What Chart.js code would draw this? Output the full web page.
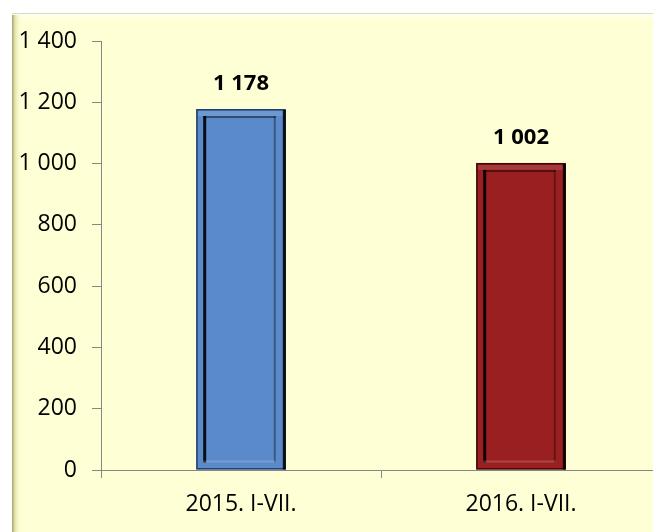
<!DOCTYPE html>
<html>
<head>
<meta charset="utf-8">
<script src="https://cdn.jsdelivr.net/npm/chart.js@4"></script>
<style>
  html, body { margin: 0; padding: 0; background: #ffffff; overflow: hidden; }
  #wrap { width: 653px; height: 532px; overflow: hidden; }
</style>
</head>
<body>
<div id="wrap"><canvas id="chart" width="670" height="532"></canvas></div>
<script>
// values
const categories = ['2015. I-VII.', '2016. I-VII.'];
const values = [1178, 1002];
const barColors = ['#5A8ACA', '#9A1F20'];
const barEdges = ['#23406A', '#3E0A0B'];

function spaced(n) {
  return String(n).replace(/\B(?=(\d{3})+(?!\d))/g, ' ');
}

// light yellow panel with a bevelled edge behind the plot
const panel = {
  id: 'panel',
  beforeDraw(chart) {
    const ctx = chart.ctx;
    const x0 = 12, y0 = 13, x1 = chart.width, y1 = chart.height;
    ctx.save();
    ctx.fillStyle = '#FFFFD6';
    ctx.fillRect(x0, y0, x1 - x0, y1 - y0);
    let g = ctx.createLinearGradient(0, y0, 0, y0 + 10);
    g.addColorStop(0, 'rgba(255,255,245,1)');
    g.addColorStop(1, 'rgba(255,255,214,0)');
    ctx.fillStyle = g;
    ctx.fillRect(x0, y0, x1 - x0, 10);
    g = ctx.createLinearGradient(x0, 0, x0 + 10, 0);
    g.addColorStop(0, 'rgba(150,150,90,0.9)');
    g.addColorStop(0.3, 'rgba(215,215,160,0.7)');
    g.addColorStop(1, 'rgba(255,255,214,0)');
    ctx.fillStyle = g;
    ctx.fillRect(x0, y0 + 2, 10, y1 - y0);
    ctx.strokeStyle = '#D9D9C6';
    ctx.lineWidth = 1;
    ctx.beginPath();
    ctx.moveTo(x0, y0 + 0.5);
    ctx.lineTo(x1, y0 + 0.5);
    ctx.stroke();
    ctx.restore();
  }
};

// bevel look of the bars plus bold value labels
const bevel = {
  id: 'bevel',
  afterDatasetsDraw(chart) {
    const ctx = chart.ctx;
    const meta = chart.getDatasetMeta(0);
    ctx.save();
    meta.data.forEach((bar, i) => {
      const p = bar.getProps(['x', 'y', 'base', 'width'], true);
      const l = p.x - p.width / 2, r = p.x + p.width / 2;
      const t = p.y, b = p.base;
      const ins = 7;
      // outer edge
      ctx.strokeStyle = barEdges[i];
      ctx.lineWidth = 1.5;
      ctx.strokeRect(l + 0.75, t + 0.75, r - l - 1.5, b - t - 1.5);
      ctx.fillStyle = 'rgba(0,0,0,0.85)';
      ctx.fillRect(r - 3, t + 1, 3, b - t - 1);
      // lighter rim
      ctx.fillStyle = 'rgba(255,255,255,0.12)';
      ctx.fillRect(l + 2, t + 2, r - l - 5, ins - 2);
      // inner panel lines
      ctx.fillStyle = 'rgba(0,0,0,0.9)';
      ctx.fillRect(l + ins, t + ins, 3, b - t - 2 * ins);
      ctx.fillStyle = 'rgba(0,0,0,0.45)';
      ctx.fillRect(l + ins, t + ins, r - l - 2 * ins - 3, 2);
      ctx.fillStyle = 'rgba(0,0,0,0.35)';
      ctx.fillRect(r - ins - 5, t + ins, 2, b - t - 2 * ins);
      ctx.fillStyle = 'rgba(255,255,255,0.18)';
      ctx.fillRect(l + ins, b - ins - 2, r - l - 2 * ins - 3, 2);
      // value label
      ctx.fillStyle = '#000000';
      ctx.font = 'bold 22px "Open Sans", "Liberation Sans", sans-serif';
      ctx.textAlign = 'center';
      ctx.textBaseline = 'middle';
      ctx.fillText(spaced(values[i]), p.x, t - 25);
    });
    ctx.restore();
  }
};

const axisFont = { family: '"Open Sans", "Liberation Sans", sans-serif', size: 23 };

new Chart(document.getElementById('chart'), {
  type: 'bar',
  data: {
    labels: categories,
    datasets: [{
      data: values,
      backgroundColor: barColors,
      borderWidth: 0,
      barPercentage: 0.64,
      categoryPercentage: 0.5
    }]
  },
  options: {
    responsive: false,
    animation: false,
    layout: { padding: { left: 0, right: 9, top: 41, bottom: 0 } },
    plugins: {
      legend: { display: false },
      tooltip: { enabled: false }
    },
    scales: {
      x: {
        afterFit(scale) { scale.height = 62; },
        grid: { drawOnChartArea: false, tickLength: 8, color: '#868686' },
        border: { color: '#868686' },
        ticks: { color: '#000000', font: axisFont, padding: 13 }
      },
      y: {
        min: 0,
        max: 1400,
        afterFit(scale) { scale.width = 101; },
        grid: { drawOnChartArea: false, tickLength: 9, color: '#868686' },
        border: { color: '#868686' },
        ticks: {
          stepSize: 200,
          color: '#000000',
          font: axisFont,
          padding: 15,
          callback: (v) => spaced(v)
        }
      }
    }
  },
  plugins: [panel, bevel]
});
</script>
</body>
</html>
